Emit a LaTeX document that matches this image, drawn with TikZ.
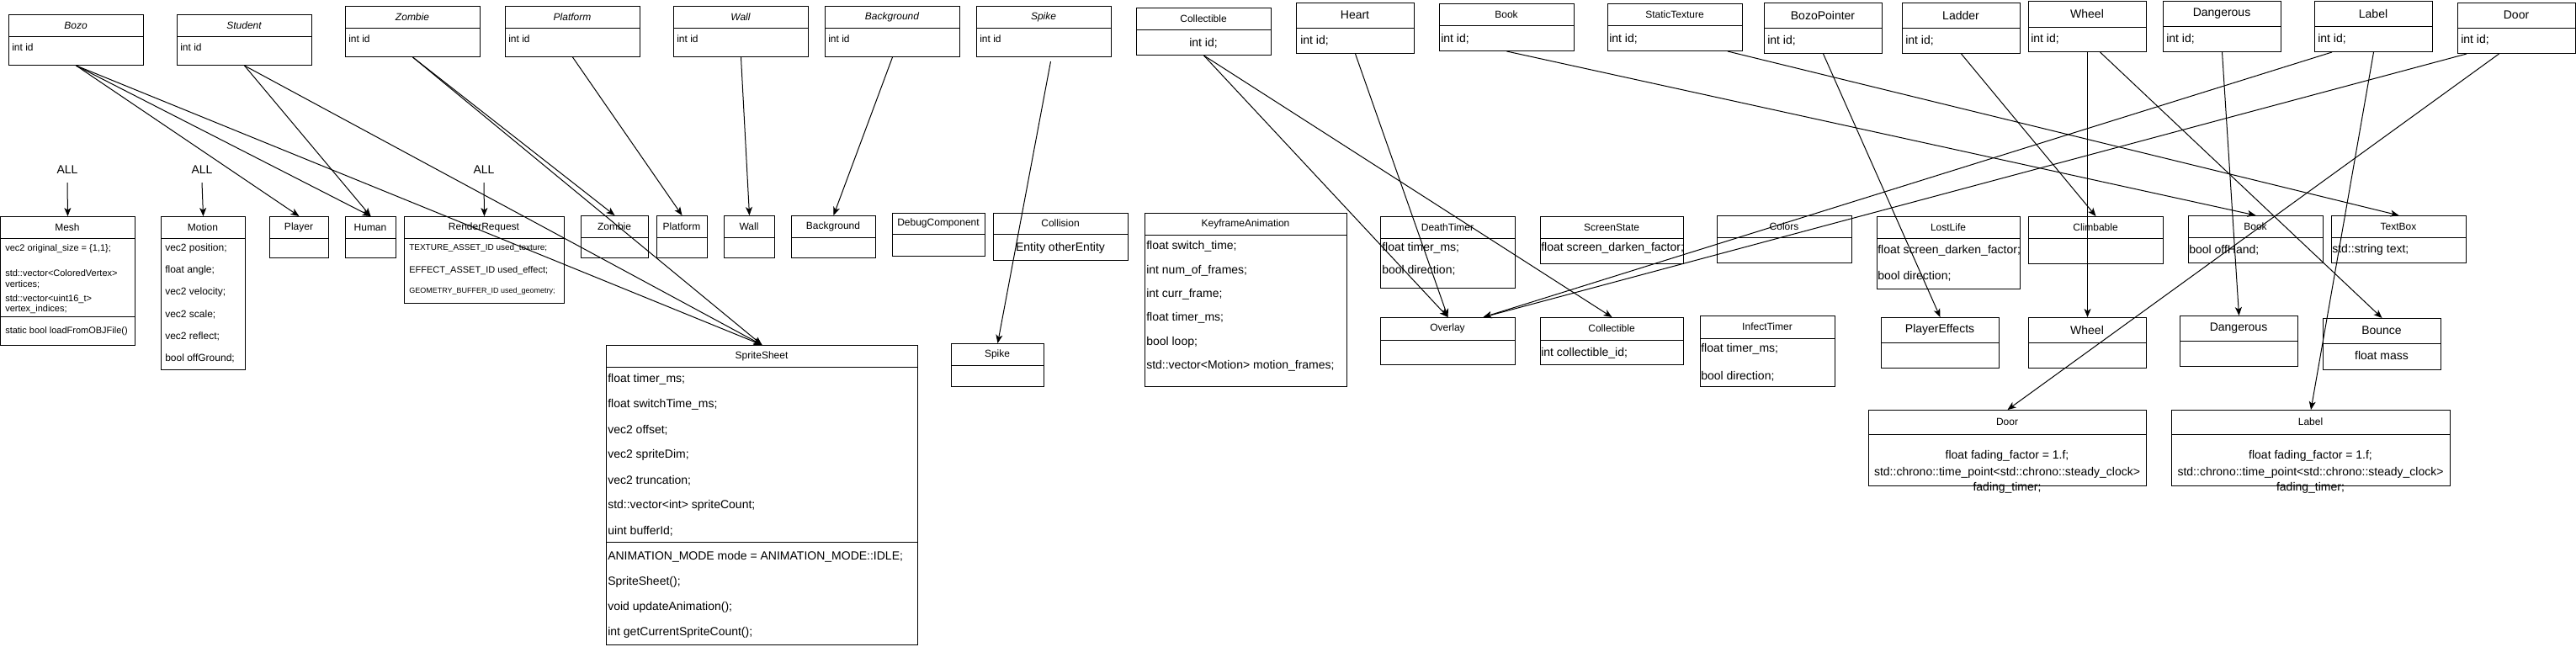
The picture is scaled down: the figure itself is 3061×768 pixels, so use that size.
\documentclass[tikz,border=0pt]{standalone}
\usepackage{fontspec}
\setmainfont{Liberation Sans}
\usetikzlibrary{arrows.meta, calc}

\tikzset{
  f9/.style={font=\fontsize{6.75}{8}\selectfont},
  f10/.style={font=\fontsize{7.5}{9}\selectfont},
  f11/.style={font=\fontsize{8.25}{9.45}\selectfont},
  f12/.style={font=\fontsize{9}{10.8}\selectfont},
  f14/.style={font=\fontsize{10.5}{12.6}\selectfont},
  cls/.style={draw, line width=0.75pt, inner sep=0pt, anchor=north west},
  ttl/.style={inner sep=0pt},
  attr/.style={anchor=west, inner sep=0pt, f12},
  mid/.style={inner sep=0pt, f14},
  conn/.style={-{Stealth[length=7.5pt, width=6pt, inset=2pt]}, line width=0.75pt},
}

% class box: [title font]{name}{x}{y}{width}{height}{header height}{title}
\newcommand{\classbox}[8][f12]{%
  \node[cls, minimum width=#5*0.75pt, minimum height=#6*0.75pt] (#2) at (#3,#4) {};
  \draw[line width=0.75pt] (#3,#4+#7) -- ++(#5,0);
  \node[ttl, #1] (#2-t) at (#3+#5/2,#4+#7/2) {#8};
}

\begin{document}
\begin{tikzpicture}[x=0.75pt, y=-0.75pt]
  \fill[white] (0,0) rectangle (3061,768);
  \useasboundingbox (0,0) rectangle (3061,768);

  % entities (top row)
  \classbox{bozo}{10}{17}{160}{60}{26}{\itshape Bozo}
  \classbox{student}{210}{17}{160}{60}{26}{\itshape Student}
  \classbox{zombieE}{410}{7}{160}{60}{26}{\itshape Zombie}
  \classbox{platformE}{600}{7}{160}{60}{26}{\itshape Platform}
  \classbox{wallE}{800}{7}{160}{60}{26}{\itshape Wall}
  \classbox{backgroundE}{980}{7}{160}{60}{26}{\itshape Background}
  \classbox{spikeE}{1160}{7}{160}{60}{26}{\itshape Spike}
  \classbox{collectibleE}{1350}{9}{160}{56}{26}{Collectible}
  \classbox[f14]{heart}{1540}{3}{140}{60}{30}{Heart}
  \classbox{book}{1710}{4}{160}{56}{26}{Book}
  \classbox{staticTexture}{1910}{4}{160}{56}{26}{StaticTexture}
  \classbox[f14]{bozoPointer}{2096}{3}{140}{60}{30}{BozoPointer}
  \classbox[f14]{ladder}{2260}{3}{140}{60}{30}{Ladder}
  \classbox[f14]{wheelE}{2410}{1}{140}{60}{31}{Wheel}
  \classbox[f14]{dangerousE}{2570}{1}{140}{60}{30}{Dangerous}
  \classbox[f14]{labelE}{2750}{1}{140}{60}{30}{Label}
  \classbox[f14]{doorE}{2920}{3}{140}{60}{30}{Door}

  \node[attr] (bozo-a) at (14,56) {int id};
  \node[attr] (student-a) at (214,56) {int id};
  \node[attr] (zombieE-a) at (414,46.7) {int id};
  \node[attr] (platformE-a) at (604,46.7) {int id};
  \node[attr] (wallE-a) at (804,46.7) {int id};
  \node[attr] (backgroundE-a) at (984,46.7) {int id};
  \node[attr] (spikeE-a) at (1164,46.7) {int id};
  \node[mid] (collectibleE-a) at (1430,51) {int id;};
  \node[attr, f14] (heart-a) at (1545,48.3) {int id;};
  \node[attr, f14] (book-a) at (1712,46) {int id;};
  \node[attr, f14] (staticTexture-a) at (1912,46) {int id;};
  \node[attr, f14] (bozoPointer-a) at (2100,48.3) {int id;};
  \node[attr, f14] (ladder-a) at (2264,48.3) {int id;};
  \node[attr, f14] (wheelE-a) at (2413,46) {int id;};
  \node[attr, f14] (dangerousE-a) at (2574,46) {int id;};
  \node[attr, f14] (labelE-a) at (2754,46) {int id;};
  \node[attr, f14] (doorE-a) at (2924,47.7) {int id;};

  % components
  \node[mid] (allMesh) at (80,202) {ALL};
  \node[mid] (allMotion) at (240,202) {ALL};
  \node[mid] (allRender) at (575,202) {ALL};

  \classbox{mesh}{0}{257}{160}{153}{26}{Mesh}
  \node[attr, f11] (mesh-a1) at (6,295.7) {vec2 original\_size = \{1,1\};};
  \node[attr, f11, align=left] (mesh-a2) at (6,332) {std::vector<ColoredVertex>\\vertices;};
  \node[attr, f11, align=left] (mesh-a3) at (6,361.7) {std::vector<uint16\_t>\\vertex\_indices;};
  \draw[line width=0.75pt] (0,376.7) -- (160,376.7);
  \node[attr, f11] (mesh-m1) at (6,393.3) {static bool loadFromOBJFile()};

  \classbox{motion}{191}{257}{100}{182}{26}{Motion}
  \node[attr] (motion-a1) at (196,295.7) {vec2 position;};
  \node[attr] (motion-a2) at (196,321.7) {float angle;};
  \node[attr] (motion-a3) at (196,347.7) {vec2 velocity;};
  \node[attr] (motion-a4) at (196,373.7) {vec2 scale;};
  \node[attr] (motion-a5) at (196,399.7) {vec2 reflect;};
  \node[attr] (motion-a6) at (196,425.7) {bool offGround;};

  \classbox{player}{320}{257}{70}{49}{26}{Player}
  \classbox{human}{410}{257}{60}{49}{26}{Human}

  \classbox{renderRequest}{480}{257}{190}{103}{26}{RenderRequest}
  \node[attr, f10] (renderRequest-a1) at (486,295) {TEXTURE\_ASSET\_ID used\_texture;};
  \node[attr, f11] (renderRequest-a2) at (486,321.7) {EFFECT\_ASSET\_ID used\_effect;};
  \node[attr, f9] (renderRequest-a3) at (486,345.7) {GEOMETRY\_BUFFER\_ID used\_geometry;};

  \classbox{zombieC}{690}{256}{80}{50}{26}{Zombie}
  \classbox{platformC}{780}{256}{60}{50}{26}{Platform}
  \classbox{wallC}{860}{256}{60}{50}{26}{Wall}
  \classbox{backgroundC}{940}{256}{100}{50}{26}{Background}
  \classbox{debugComponent}{1060}{253}{110}{51}{25}{DebugComponent}
  \classbox{collision}{1180}{253}{160}{56}{25}{Collision}
  \node[mid] (collision-a) at (1260,295) {Entity otherEntity};

  \classbox{keyframe}{1360}{253}{240}{206}{26}{KeyframeAnimation}
  \node[attr, f14] (keyframe-a1) at (1362,293.3) {float switch\_time;};
  \node[attr, f14] (keyframe-a2) at (1362,321.7) {int num\_of\_frames;};
  \node[attr, f14] (keyframe-a3) at (1362,350) {int curr\_frame;};
  \node[attr, f14] (keyframe-a4) at (1362,378.3) {float timer\_ms;};
  \node[attr, f14] (keyframe-a5) at (1362,406.7) {bool loop;};
  \node[attr, f14] (keyframe-a6) at (1362,435) {std::vector<Motion> motion\_frames;};

  \classbox{deathTimer}{1640}{257}{160}{85}{26}{DeathTimer}
  \node[attr, f14] (deathTimer-a1) at (1642,295) {float timer\_ms;};
  \node[attr, f14] (deathTimer-a2) at (1642,321.7) {bool direction;};

  \classbox{screenState}{1830}{257}{170}{56}{26}{ScreenState}
  \node[attr, f14] (screenState-a) at (1831,295) {float screen\_darken\_factor;};

  \classbox{colors}{2040}{256}{160}{56}{26}{Colors}

  \classbox{lostLife}{2230}{257}{170}{86}{26}{LostLife}
  \node[attr, f14] (lostLife-a1) at (2231,298) {float screen\_darken\_factor;};
  \node[attr, f14] (lostLife-a2) at (2231,328) {bool direction;};

  \classbox{climbable}{2410}{257}{160}{56}{26}{Climbable}
  \classbox{bookC}{2600}{256}{160}{56}{26}{Book}
  \node[attr, f14] (bookC-a) at (2601,297) {bool offHand;};
  \classbox{textBox}{2770}{256}{160}{56}{26}{TextBox}
  \node[attr, f14] (textBox-a) at (2771,297) {std::string text;};

  % third row
  \classbox{spriteSheet}{720}{410}{370}{356}{26}{SpriteSheet}
  \node[attr, f14] (spriteSheet-a1) at (722,451) {float timer\_ms;};
  \node[attr, f14] (spriteSheet-a2) at (722,481) {float switchTime\_ms;};
  \node[attr, f14] (spriteSheet-a3) at (722,511) {vec2 offset;};
  \node[attr, f14] (spriteSheet-a4) at (722,541) {vec2 spriteDim;};
  \node[attr, f14] (spriteSheet-a5) at (722,571) {vec2 truncation;};
  \node[attr, f14] (spriteSheet-a6) at (722,601) {std::vector<int> spriteCount;};
  \node[attr, f14] (spriteSheet-a7) at (722,631) {uint bufferId;};
  \draw[line width=0.75pt] (720,644.5) -- (1090,644.5);
  \node[attr, f14] (spriteSheet-m1) at (722,661.7) {ANIMATION\_MODE mode = ANIMATION\_MODE::IDLE;};
  \node[attr, f14] (spriteSheet-m2) at (722,691.7) {SpriteSheet();};
  \node[attr, f14] (spriteSheet-m3) at (722,721.5) {void updateAnimation();};
  \node[attr, f14] (spriteSheet-m4) at (722,751.5) {int getCurrentSpriteCount();};

  \classbox{spikeC}{1130}{408}{110}{51}{26}{Spike}
  \classbox{overlay}{1640}{377}{160}{56}{27}{Overlay}
  \classbox{collectibleC}{1830}{377}{170}{56}{27}{Collectible}
  \node[attr, f14] (collectibleC-a) at (1831,420) {int collectible\_id;};
  \classbox{infectTimer}{2020}{375}{160}{84}{27}{InfectTimer}
  \node[attr, f14] (infectTimer-a1) at (2021,415) {float timer\_ms;};
  \node[attr, f14] (infectTimer-a2) at (2021,447) {bool direction;};
  \classbox[f14]{playerEffects}{2235}{377}{140}{60}{30}{PlayerEffects}
  \classbox[f14]{wheelC}{2410}{377}{140}{60}{30}{Wheel}
  \classbox[f14]{dangerousC}{2590}{375}{140}{60}{30}{Dangerous}
  \classbox[f14]{bounce}{2760}{378}{140}{61}{30}{Bounce}
  \node[mid] (bounce-a) at (2830,422) {float mass};

  % fourth row
  \classbox{doorC}{2220}{487}{330}{90}{29}{Door}
  \node[mid] (doorC-a1) at (2385,541.7) {float fading\_factor = 1.f;};
  \node[mid] (doorC-a2) at (2385,561.7) {std::chrono::time\_point<std::chrono::steady\_clock>};
  \node[mid] (doorC-a3) at (2385,580) {fading\_timer;};
  \classbox{labelC}{2580}{487}{331}{90}{29}{Label}
  \node[mid] (labelC-a1) at (2745.5,541.7) {float fading\_factor = 1.f;};
  \node[mid] (labelC-a2) at (2745.5,561.7) {std::chrono::time\_point<std::chrono::steady\_clock>};
  \node[mid] (labelC-a3) at (2745.5,580) {fading\_timer;};

  % connectors
  \draw[conn] ($(allMesh.south)+(0,10)$) -- (mesh.north);
  \draw[conn] ($(allMotion.south)+(0,10)$) -- (motion.north);
  \draw[conn] ($(allRender.south)+(0,10)$) -- (renderRequest.north);

  \draw[conn] (bozo.south) -- (player.north);
  \draw[conn] (bozo.south) -- (human.north);
  \draw[conn] (bozo.south) -- (spriteSheet.north);
  \draw[conn] (student.south) -- (human.north);
  \draw[conn] (student.south) -- (spriteSheet.north);
  \draw[conn] (zombieE.south) -- (zombieC.north);
  \draw[conn] (zombieE.south) -- (spriteSheet.north);
  \draw[conn] (platformE.south) -- (platformC.north);
  \draw[conn] (wallE.south) -- (wallC.north);
  \draw[conn] (backgroundE.south) -- (backgroundC.north);
  \draw[conn] ($(spikeE.south)+(8,5)$) -- (spikeC.north);

  \draw[conn] (collectibleE.south) -- (overlay.north);
  \draw[conn] (collectibleE.south) -- (collectibleC.north);
  \draw[conn] (heart.south) -- (overlay.north);
  \draw[conn] (book.south) -- (bookC.north);
  \draw[conn] ($(staticTexture.south east)+(-18,0)$) -- (textBox.north);
  \draw[conn] (bozoPointer.south) -- (playerEffects.north);
  \draw[conn] (ladder.south) -- (climbable.north);
  \draw[conn] (wheelE.south) -- (wheelC.north);
  \draw[conn] ($(wheelE.south)+(15,0)$) -- (bounce.north);
  \draw[conn] (dangerousE.south) -- (dangerousC.north);
  \draw[conn] ($(labelE.south west)+(21,0)$) -- ($(overlay.north)+(42,0)$);
  \draw[conn] (labelE.south) -- (labelC.north);
  \draw[conn] ($(doorE.south west)+(11,0)$) -- ($(overlay.north)+(42,0)$);
  \draw[conn] ($(doorE.south)+(-21,0)$) -- (doorC.north);
\end{tikzpicture}
\end{document}
